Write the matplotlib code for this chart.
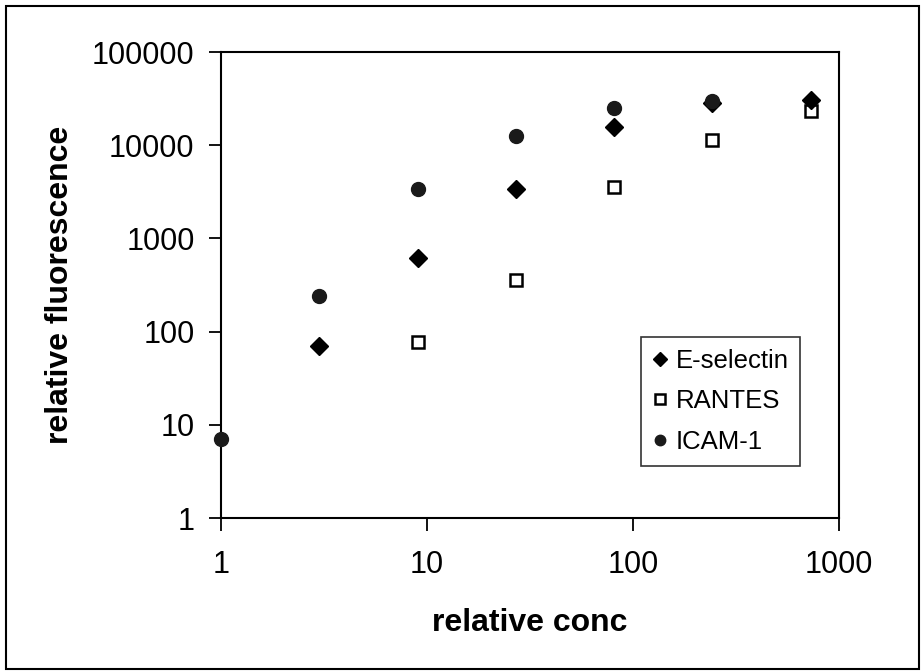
import matplotlib
matplotlib.use("Agg")
import matplotlib.pyplot as plt
from matplotlib.patches import Rectangle

plt.rcParams['font.family'] = ['Liberation Sans', 'DejaVu Sans']

conc = [1, 3, 9, 27, 81, 243, 729]
e_selectin_x = [3, 9, 27, 81, 243, 729]
e_selectin = [70, 610, 3400, 15600, 28500, 30500]
rantes_x = [9, 27, 81, 243, 729]
rantes = [78, 355, 3600, 11300, 23500]
icam_x = [1, 3, 9, 27, 81, 243]
icam = [7.1, 240, 3400, 12500, 25000, 29500]

W, H = 921, 671
fig = plt.figure(figsize=(W / 100, H / 100), dpi=100)
ax = fig.add_axes([221 / W, 1 - 518 / H, (839 - 221) / W, (518 - 52) / H])

ax.plot(e_selectin_x, e_selectin, linestyle='none', marker='D', markersize=9.5,
        color='black', label='E-selectin', clip_on=False, zorder=3)
ax.plot(rantes_x, rantes, linestyle='none', marker='s', markersize=9,
        markerfacecolor='white', markeredgecolor='black', markeredgewidth=1.8,
        label='RANTES', clip_on=False, zorder=2)
ax.plot(icam_x, icam, linestyle='none', marker='o', markersize=10,
        color='#1a1a1a', label='ICAM-1', clip_on=False, zorder=4)

ax.set_xscale('log')
ax.set_yscale('log')
ax.set_xlim(1, 1000)
ax.set_ylim(1, 100000)
ax.set_xticks([1, 10, 100, 1000])
ax.set_xticklabels(['1', '10', '100', '1000'])
ax.set_yticks([1, 10, 100, 1000, 10000, 100000])
ax.set_yticklabels(['1', '10', '100', '1000', '10000', '100000'])
ax.minorticks_off()
ax.tick_params(axis='both', which='major', direction='out', length=9, width=1.3,
               labelsize=22, pad=10)
ax.tick_params(axis='x', pad=14)
for s in ax.spines.values():
    s.set_linewidth(1.5)

ax.set_xlabel('relative conc', fontsize=23, fontweight='bold', labelpad=20)
ax.set_ylabel('relative fluorescence', fontsize=23, fontweight='bold', labelpad=12)

leg = ax.legend(loc='upper left', bbox_to_anchor=((641 - 221) / (839 - 221), 1 - (337 - 52) / (518 - 52)),
                fontsize=18.5, frameon=True, fancybox=False, edgecolor='black',
                handlelength=0.6, handletextpad=0.3, borderpad=0.45, labelspacing=0.65,
                markerscale=0.75, borderaxespad=0)
leg.get_frame().set_linewidth(1.2)

fig.patches.append(Rectangle((6 / W, 1 - 669 / H), (919 - 6) / W, (669 - 6) / H,
                             transform=fig.transFigure, fill=False,
                             edgecolor='black', linewidth=1.5))

fig.savefig('out.png', dpi=100)
